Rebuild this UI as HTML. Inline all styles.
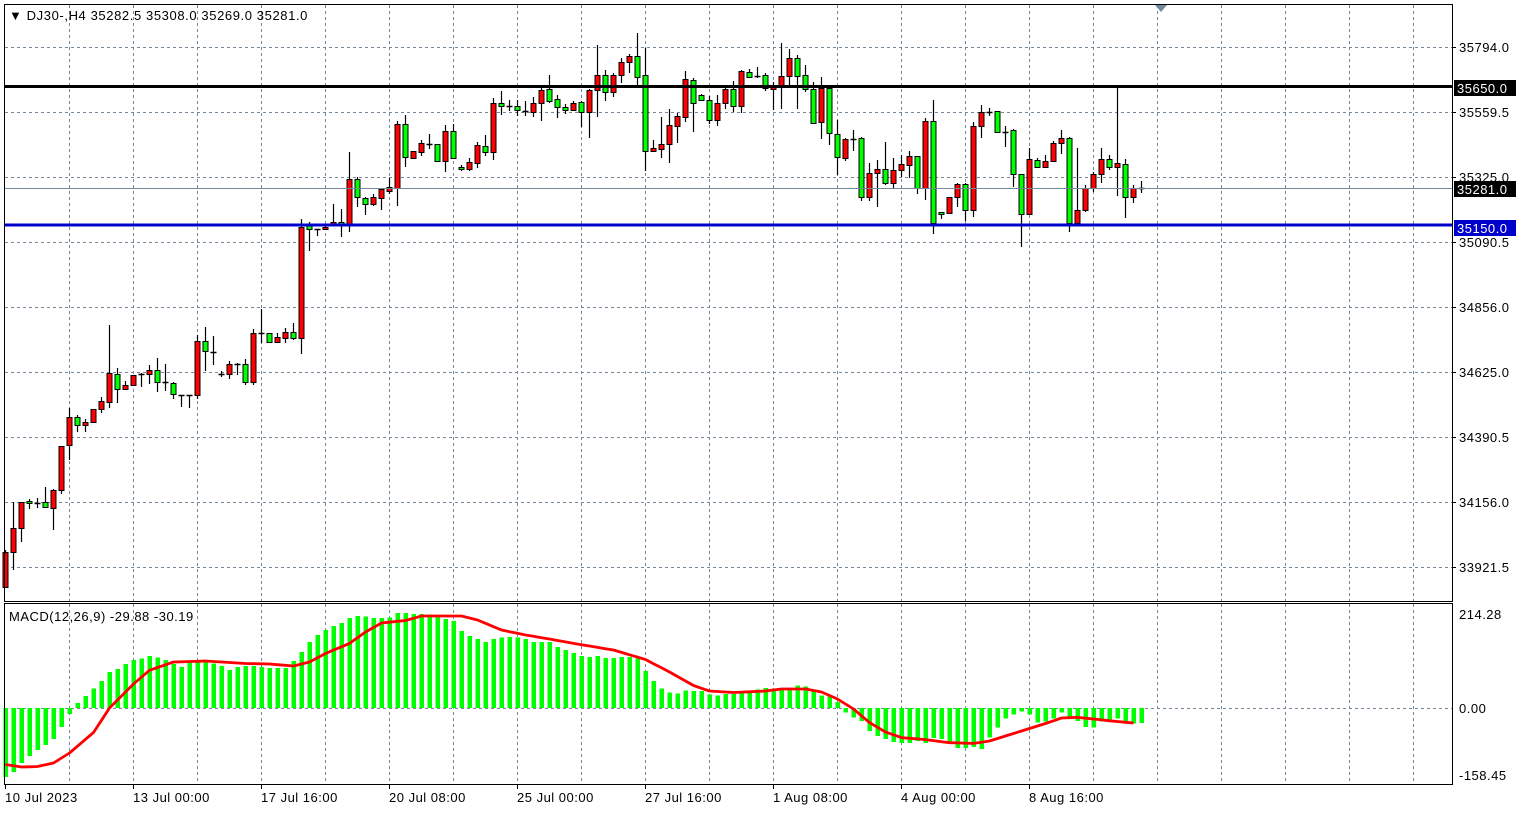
<!DOCTYPE html>
<html><head><meta charset="utf-8"><style>
html,body{margin:0;padding:0;background:#fff;}
svg{display:block;font-family:"Liberation Sans",sans-serif;}
</style></head><body>
<svg id="s" width="1526" height="813" xmlns="http://www.w3.org/2000/svg">
<rect x="0" y="0" width="1526" height="813" fill="#fff"/>
<g id="grid"></g>
<g id="hist"></g>
<g id="cand"></g>
<g id="lines"></g>
<rect x="4.5" y="4.5" width="1448" height="597" fill="none" stroke="#000" stroke-width="1"/>
<rect x="4.5" y="603.5" width="1448" height="181" fill="none" stroke="#000" stroke-width="1"/>
<polygon points="1155,5 1167,5 1161,12" fill="#778899"/>
<text x="9" y="20" font-size="13" fill="#000" letter-spacing="0.6">▼ DJ30-,H4  35282.5 35308.0 35269.0 35281.0</text>
<text x="9" y="621" font-size="13" fill="#000" letter-spacing="0.5">MACD(12,26,9) -29.88 -30.19</text>
<g id="axis" font-size="13" fill="#000" letter-spacing="0.5"></g>
</svg>
<script>
var NS="http://www.w3.org/2000/svg";
function el(p,t,a,txt){var e=document.createElementNS(NS,t);for(var k in a)e.setAttribute(k,a[k]);if(txt!==undefined)e.textContent=txt;document.getElementById(p).appendChild(e);return e;}
for(var x=69;x<1452;x+=64){el('grid','line',{x1:x+.5,y1:5,x2:x+.5,y2:601,stroke:'#778899','stroke-dasharray':'3,3'});el('grid','line',{x1:x+.5,y1:604,x2:x+.5,y2:784,stroke:'#778899','stroke-dasharray':'3,3'});}
var hy=[47,112,177,242,307,372,437,502,567];
hy.forEach(function(y){el('grid','line',{x1:5,y1:y+.5,x2:1452,y2:y+.5,stroke:'#778899','stroke-dasharray':'3,3'});});
el('grid','line',{x1:5,y1:708.5,x2:1452,y2:708.5,stroke:'#778899','stroke-dasharray':'3,3'});
var pl=[[47,'35794.0'],[112,'35559.5'],[177,'35325.0'],[242,'35090.5'],[307,'34856.0'],[372,'34625.0'],[437,'34390.5'],[502,'34156.0'],[567,'33921.5']];
pl.forEach(function(p){el('axis','line',{x1:1452,y1:p[0]+.5,x2:1456,y2:p[0]+.5,stroke:'#000'});el('axis','text',{x:1459,y:p[0]+5},p[1]);});
[[614,'214.28'],[708,'0.00'],[775,'-158.45']].forEach(function(p){el('axis','text',{x:1459,y:p[0]+5},p[1]);});
var tl=[[5,'10 Jul 2023'],[133,'13 Jul 00:00'],[261,'17 Jul 16:00'],[389,'20 Jul 08:00'],[517,'25 Jul 00:00'],[645,'27 Jul 16:00'],[773,'1 Aug 08:00'],[901,'4 Aug 00:00'],[1029,'8 Aug 16:00']];
tl.forEach(function(t){el('axis','line',{x1:t[0]+.5,y1:784,x2:t[0]+.5,y2:789,stroke:'#000'});el('axis','text',{x:t[0],y:802},t[1]);});
var C=[[550,587,552,587,'r'],[502,570,528,552,'r'],[502,542,502,528,'r'],[499,509,501,503,'g'],[498,508,503,503,'d'],[487,508,502,507,'g'],[489,530,490,508,'r'],[446,494,446,490,'r'],[408,460,417,445,'r'],[415,432,417,425,'g'],[419,432,422,425,'r'],[409,422,409,422,'r'],[397,413,401,409,'r'],[325,408,373,402,'r'],[368,403,374,389,'g'],[381,390,385,389,'r'],[375,385,375,385,'r'],[373,387,374,374,'d'],[365,384,370,374,'r'],[358,392,370,382,'g'],[364,391,382,382,'d'],[382,399,383,394,'g'],[395,407,395,395,'d'],[395,408,395,395,'d'],[335,399,341,395,'r'],[327,371,341,351,'g'],[336,365,352,352,'d'],[371,377,374,374,'d'],[361,379,364,374,'r'],[363,375,364,364,'d'],[359,385,364,382,'g'],[329,385,333,382,'r'],[309,343,333,333,'d'],[333,342,333,342,'g'],[333,343,337,342,'r'],[328,343,332,338,'r'],[323,340,332,338,'g'],[219,354,227,338,'r'],[222,251,225,229,'g'],[229,236,229,229,'d'],[225,229,227,229,'r'],[204,225,222,225,'r'],[209,237,222,225,'g'],[152,232,179,225,'r'],[177,207,179,197,'g'],[197,215,198,204,'g'],[194,206,197,204,'r'],[189,210,189,198,'r'],[178,194,187,191,'r'],[121,206,124,188,'r'],[115,167,124,157,'g'],[151,158,151,158,'r'],[140,156,143,152,'r'],[134,149,144,144,'d'],[144,161,144,161,'g'],[125,172,131,161,'r'],[124,158,131,158,'g'],[165,171,167,169,'g'],[158,171,162,169,'r'],[142,168,145,163,'r'],[135,156,146,152,'g'],[98,160,103,152,'r'],[91,115,103,106,'g'],[100,111,106,106,'d'],[100,116,106,110,'g'],[101,116,111,111,'d'],[97,117,103,112,'r'],[87,121,90,103,'r'],[75,103,89,101,'g'],[95,118,99,107,'g'],[104,114,107,110,'g'],[101,111,103,110,'r'],[101,127,102,112,'g'],[89,138,90,112,'r'],[45,117,75,90,'r'],[70,101,75,92,'g'],[73,97,75,92,'r'],[58,83,62,75,'r'],[54,73,56,62,'r'],[33,88,56,77,'g'],[48,171,75,151,'g'],[140,152,148,151,'r'],[117,158,144,149,'r'],[109,163,125,144,'r'],[113,143,116,126,'r'],[71,122,79,117,'r'],[78,132,80,103,'g'],[94,101,95,100,'g'],[96,124,100,120,'g'],[95,126,103,120,'r'],[87,109,89,103,'r'],[81,112,89,106,'g'],[70,113,71,106,'r'],[69,77,72,77,'g'],[67,78,76,76,'d'],[73,91,75,88,'g'],[82,110,87,89,'r'],[43,109,76,87,'r'],[49,85,58,76,'r'],[55,109,58,76,'g'],[65,92,75,89,'g'],[82,124,89,123,'g'],[77,139,88,122,'r'],[85,145,88,133,'g'],[120,175,134,157,'g'],[138,161,139,158,'r'],[130,151,139,139,'d'],[137,201,138,197,'g'],[163,201,173,197,'r'],[160,207,169,173,'r'],[142,185,169,183,'g'],[158,188,170,183,'r'],[155,177,164,170,'r'],[151,178,156,165,'r'],[156,194,156,188,'g'],[118,200,121,188,'r'],[100,234,121,223,'g'],[212,219,212,214,'g'],[197,214,197,213,'r'],[183,207,184,197,'r'],[183,221,184,210,'g'],[122,217,126,210,'r'],[105,138,112,126,'r'],[108,116,112,112,'d'],[111,132,111,132,'g'],[126,147,132,132,'d'],[129,187,130,174,'g'],[174,247,174,214,'g'],[148,214,159,214,'r'],[158,168,160,167,'g'],[155,168,161,167,'r'],[141,162,143,161,'r'],[130,154,138,143,'r'],[137,232,138,223,'g'],[148,223,210,223,'r'],[185,212,188,210,'r'],[172,192,174,188,'r'],[148,183,159,174,'r'],[155,170,159,167,'g'],[87,196,163,167,'r'],[159,218,164,197,'g'],[185,203,188,197,'r'],[181,193,188,188,'d']];
C.forEach(function(c,i){var cx=5.5+8*i;
el('cand','line',{x1:cx,y1:c[0],x2:cx,y2:c[1],stroke:'#000','stroke-width':1.2});
if(c[4]=='d'){el('cand','line',{x1:cx-3,y1:c[2]+.5,x2:cx+3,y2:c[2]+.5,stroke:'#000','stroke-width':1.5});}
else{el('cand','rect',{x:cx-2.5,y:c[2]+.5,width:5,height:Math.max(1,c[3]-c[2]),fill:c[4]=='r'?'#ff0000':'#00ff00',stroke:'#000','stroke-width':1});}
});
var H=[-69,-64,-55,-48,-42,-37,-31,-19,-6,5,12,19.5,27,36,39,44,48,49.5,52,50.5,48,44,41,46,46,45.5,44.5,42,38,41,42,42,41,40,40,40,47,56,66,73,78,82,85,90,92,91.5,90,90,90.5,95,95,94,94,93.5,91,89,87,77,72,69,66,69,70.5,71,70.5,69,66,66,66,61,58,55,52,51,52,50,50,51,51,49.5,37,27,19.5,15.5,14.5,17.5,17,17,13.5,12.5,14,14,16,17.5,18.5,20,19.5,18,19.5,22.5,21.5,18,12.5,11.5,6,-4.5,-9.5,-13,-23,-28,-31,-34,-35,-35,-33,-35,-30,-31,-34.5,-40,-40,-39,-41,-29.5,-19.5,-10.5,-6.5,-3.5,-6.5,-14.5,-13.5,-10.5,-4.5,-9,-13,-19,-19.5,-13.5,-12,-10.5,-13,-15.5,-15];
H.forEach(function(h,i){var x=3.5+8*i;var y=h>0?708-h:708;el('hist','rect',{x:x,y:y,width:4.5,height:Math.abs(h),fill:'#00ff00'});});
var S=[[0,-56.5],[2,-59],[4,-58.5],[6,-55],[8,-45],[11,-24.5],[13,0],[16,24],[18,37.7],[21,46],[25,47],[30,44.5],[33,44],[36,42],[38,46],[40,54.5],[43,64.6],[45,76],[47,85],[50,87.5],[52,92],[57,92],[59,88],[62,78],[65,73],[68,69],[71,64.6],[76,58],[80,48.5],[83,36],[86,22.5],[88,17],[91,15.5],[95,17],[97,19],[100,19],[102,16],[104,9],[106,-1],[108,-14.5],[110,-24],[112,-29.6],[115,-31.6],[118,-34.7],[121,-35.4],[123,-33],[125,-28],[128,-20.5],[130,-15.5],[132,-10],[134,-9.4],[136,-11],[138,-12.8],[141,-15]];
var pts=[];for(var k=0;k<S.length-1;k++){var a=S[k],b=S[k+1];for(var i=a[0];i<b[0];i++){var v=a[1]+(b[1]-a[1])*(i-a[0])/(b[0]-a[0]);pts.push((5.5+8*i)+','+(708-v).toFixed(1));}}
pts.push((5.5+8*141)+','+(708+15));
el('lines','polyline',{points:pts.join(' '),fill:'none',stroke:'#ff0000','stroke-width':2.8,'stroke-linejoin':'round'});
el('lines','line',{x1:5,y1:188.5,x2:1452,y2:188.5,stroke:'#778899','stroke-width':1});
el('lines','line',{x1:5,y1:86.5,x2:1452,y2:86.5,stroke:'#000','stroke-width':3});
el('lines','line',{x1:5,y1:225,x2:1452,y2:225,stroke:'#0000cc','stroke-width':3});
function lab(y,t,bg){el('axis','rect',{x:1454,y:y-8,width:62,height:16,fill:bg});el('axis','text',{x:1457,y:y+5,fill:'#fff'},t);}
lab(88,'35650.0','#000');lab(189,'35281.0','#000');lab(228,'35150.0','#0000cc');
</script>
</body></html>
